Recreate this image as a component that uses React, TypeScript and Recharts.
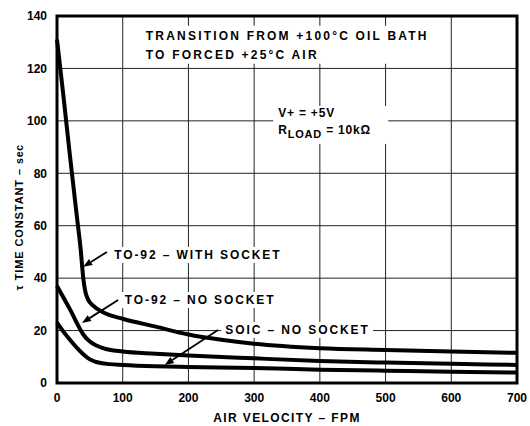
import { LineChart, Line, XAxis, YAxis, CartesianGrid, ReferenceArea, ReferenceLine } from "recharts";

// Air velocity (FPM) samples and time constants (sec)
const withSocketX = [0, 10, 20, 30, 36, 40, 43, 47, 55, 70, 100, 150, 200, 250, 300, 400, 500, 600, 700];
const withSocketY = [131, 109, 86, 64, 51, 40, 35, 32, 29.5, 27, 24.5, 21.5, 18.5, 16.5, 15, 13.3, 12.6, 12, 11.5];

const noSocketX = [0, 10, 20, 30, 40, 50, 60, 70, 100, 150, 200, 300, 400, 500, 600, 700];
const noSocketY = [37, 32.5, 28, 23, 18.5, 15.8, 14.3, 13.3, 12, 11.2, 10.5, 9.4, 8.4, 7.8, 7.3, 6.9];

const soicX = [0, 10, 20, 30, 40, 50, 60, 80, 100, 150, 200, 300, 400, 500, 600, 700];
const soicY = [23, 19.5, 16.4, 13.5, 11, 9, 8, 7.2, 6.9, 6.4, 6.1, 5.7, 5.1, 4.7, 4.3, 4];

const xTicks = [0, 100, 200, 300, 400, 500, 600, 700];
const yTicks = [0, 20, 40, 60, 80, 100, 120, 140];

const toPoints = (xs: number[], ys: number[]) => xs.map((x, i) => ({ x, y: ys[i] }));

const withSocket = toPoints(withSocketX, withSocketY);
const noSocket = toPoints(noSocketX, noSocketY);
const soic = toPoints(soicX, soicY);

const FONT = "'Liberation Sans', Arial, sans-serif";
const SPACING = 1.9;

// white box that hides the grid behind a piece of text
function textBox(lines: { dy: number; content: any }[], dx = 4, spacing = SPACING) {
  return (props: any) => {
    const { x, y, width, height } = props;
    return (
      <g>
        <rect x={x} y={y} width={width} height={height} fill="#fff" />
        {lines.map((l, i) => (
          <text
            key={i}
            x={x + dx}
            y={y + (l.dy < 0 ? height / 2 : l.dy)}
            dominantBaseline="central"
            fontFamily={FONT}
            fontWeight="bold"
            fontSize={12}
            letterSpacing={spacing}
            fill="#000"
          >
            {l.content}
          </text>
        ))}
      </g>
    );
  };
}

function arrow(props: any) {
  const { x1, y1, x2, y2 } = props;
  const a = Math.atan2(y2 - y1, x2 - x1);
  const len = 9;
  const w = 3.5;
  const bx = x2 - len * Math.cos(a);
  const by = y2 - len * Math.sin(a);
  const px = -Math.sin(a) * w;
  const py = Math.cos(a) * w;
  return (
    <g>
      <line x1={x1} y1={y1} x2={bx} y2={by} stroke="#000" strokeWidth={1.8} />
      <polygon points={`${x2},${y2} ${bx + px},${by + py} ${bx - px},${by - py}`} fill="#000" />
    </g>
  );
}

function XTitle(props: any) {
  const vb = props.viewBox;
  const cx = vb.x + vb.width / 2;
  return (
    <text x={cx} y={422} textAnchor="middle" fontFamily={FONT} fontWeight="bold" fontSize={12} letterSpacing={1.4} fill="#000">
      AIR VELOCITY – FPM
    </text>
  );
}

function YTitle() {
  const cx = 19;
  const cy = 217;
  return (
    <text
      x={cx}
      y={cy}
      transform={`rotate(-90, ${cx}, ${cy})`}
      textAnchor="middle"
      dominantBaseline="central"
      fontFamily={FONT}
      fontWeight="bold"
      fontSize={11}
      letterSpacing={0.9}
      fill="#000"
    >
      <tspan>τ TIME CONSTANT – </tspan>
      <tspan fontSize={10.5}>sec</tspan>
    </text>
  );
}

export default function App() {
  return (
    <div style={{ position: "absolute", left: 0, top: 0, width: 530, height: 426, background: "#fff", fontFamily: FONT }}>
      <LineChart width={530} height={426} margin={{ top: 16, right: 13, bottom: 0, left: 0 }}>
        <CartesianGrid stroke="#222" strokeWidth={1} />
        <XAxis
          type="number"
          dataKey="x"
          domain={[0, 700]}
          ticks={xTicks}
          height={43}
          tickSize={0}
          tickMargin={10}
          axisLine={false}
          tick={{ fill: "#000", fontSize: 12, fontWeight: "bold", fontFamily: FONT }}
          label={{ content: XTitle }}
        />
        <YAxis
          type="number"
          dataKey="y"
          domain={[0, 140]}
          ticks={yTicks}
          width={57}
          tickSize={0}
          tickMargin={10}
          axisLine={false}
          tick={{ fill: "#000", fontSize: 12, fontWeight: "bold", fontFamily: FONT }}
          label={{ content: YTitle }}
        />

        <ReferenceArea
          x1={126}
          x2={560}
          y1={121.8}
          y2={136.3}
          ifOverflow="visible"
          shape={textBox(
            [
              { dy: 10, content: "TRANSITION FROM +100°C OIL BATH" },
              { dy: 29, content: "TO FORCED +25°C AIR" },
            ],
            6,
            2.2
          )}
        />
        <ReferenceArea
          x1={329}
          x2={504}
          y1={91.2}
          y2={105.7}
          ifOverflow="visible"
          shape={textBox(
            [
              { dy: 7, content: "V+ = +5V" },
              {
                dy: 24,
                content: (
                  <>
                    <tspan>R</tspan>
                    <tspan dy={4} fontSize={11}>LOAD</tspan>
                    <tspan dy={-4}> = 10kΩ</tspan>
                  </>
                ),
              },
            ],
            5,
            0.8
          )}
        />
        <ReferenceArea x1={81} x2={347} y1={45.8} y2={51.9} ifOverflow="visible" shape={textBox([{ dy: -1, content: "TO-92 – WITH SOCKET" }])} />
        <ReferenceArea x1={97} x2={338} y1={28.6} y2={34.7} ifOverflow="visible" shape={textBox([{ dy: -1, content: "TO-92 – NO SOCKET" }])} />
        <ReferenceArea x1={250} x2={481} y1={17.2} y2={23.3} ifOverflow="visible" shape={textBox([{ dy: -1, content: "SOIC – NO SOCKET" }])} />

        <ReferenceLine segment={[{ x: 76, y: 50 }, { x: 40, y: 44.3 }]} ifOverflow="visible" shape={arrow} />
        <ReferenceLine segment={[{ x: 93, y: 31.7 }, { x: 38, y: 22.9 }]} ifOverflow="visible" shape={arrow} />
        <ReferenceLine segment={[{ x: 245, y: 20.2 }, { x: 164, y: 6.9 }]} ifOverflow="visible" shape={arrow} />

        <Line data={withSocket} dataKey="y" type="monotone" stroke="#000" strokeWidth={4} dot={false} isAnimationActive={false} />
        <Line data={noSocket} dataKey="y" type="monotone" stroke="#000" strokeWidth={4} dot={false} isAnimationActive={false} />
        <Line data={soic} dataKey="y" type="monotone" stroke="#000" strokeWidth={4} dot={false} isAnimationActive={false} />

        <ReferenceArea x1={0} x2={700} y1={0} y2={140} fill="none" stroke="#000" strokeWidth={3} ifOverflow="visible" />
      </LineChart>
    </div>
  );
}
